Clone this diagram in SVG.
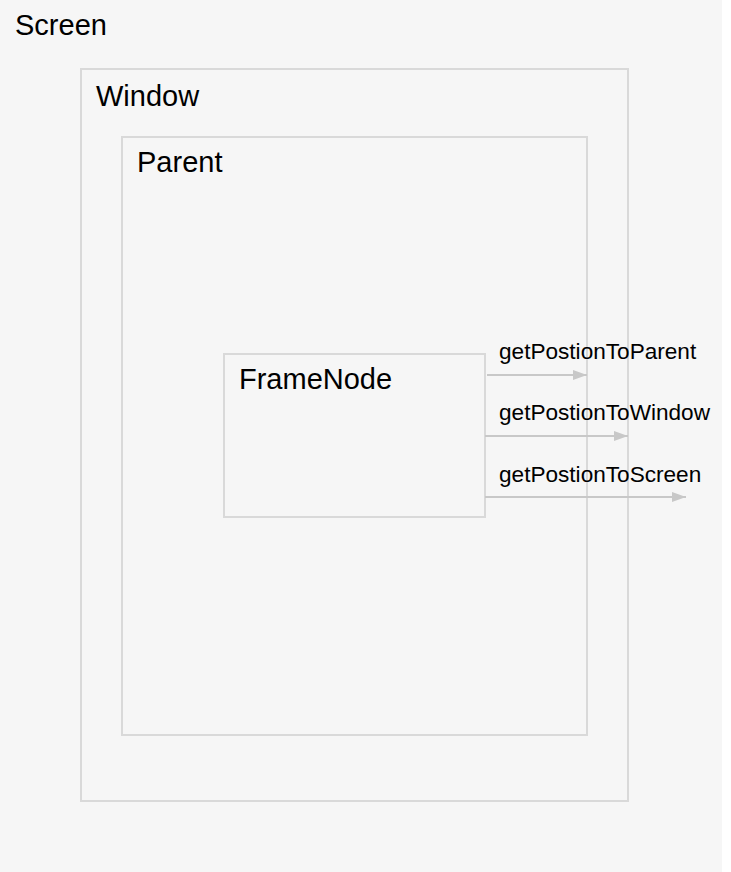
<svg xmlns="http://www.w3.org/2000/svg" width="731" height="872" viewBox="0 0 731 872">
  <style>
    .box { fill: none; stroke: #d9d9d9; stroke-width: 2; }
    .title { font-family: "Liberation Sans", Arial, sans-serif; font-size: 29px; fill: #000; }
    .label { font-family: "Liberation Sans", Arial, sans-serif; font-size: 22.6px; fill: #000; }
    .conn { stroke: #c8c8c8; stroke-width: 2; fill: none; marker-end: url(#arrow); }
  </style>
  <defs>
    <marker id="arrow" markerWidth="14" markerHeight="10" refX="14" refY="5" orient="auto" markerUnits="userSpaceOnUse">
      <path d="M0,0 L14,5 L0,10 Z" fill="#c8c8c8"/>
    </marker>
  </defs>
  <rect x="0" y="0" width="731" height="872" fill="#ffffff"/>
  <g id="screen">
    <rect x="0" y="0" width="722" height="872" fill="#f6f6f6"/>
    <text class="title" x="15" y="35">Screen</text>
  </g>
  <g id="window">
    <rect class="box" x="81" y="69" width="547" height="732"/>
    <text class="title" x="96" y="106">Window</text>
  </g>
  <g id="parent">
    <rect class="box" x="122" y="137" width="465" height="598"/>
    <text class="title" x="137" y="172">Parent</text>
  </g>
  <g id="framenode">
    <rect class="box" x="224" y="354" width="261" height="163"/>
    <text class="title" x="239" y="389">FrameNode</text>
  </g>
  <g id="connectors">
    <line class="conn" x1="487" y1="375" x2="587" y2="375"/>
    <line class="conn" x1="485" y1="436" x2="628" y2="436"/>
    <line class="conn" x1="485" y1="497" x2="686" y2="497"/>
    <text class="label" x="499" y="359">getPostionToParent</text>
    <text class="label" x="499" y="420">getPostionToWindow</text>
    <text class="label" x="499" y="482">getPostionToScreen</text>
  </g>
</svg>
